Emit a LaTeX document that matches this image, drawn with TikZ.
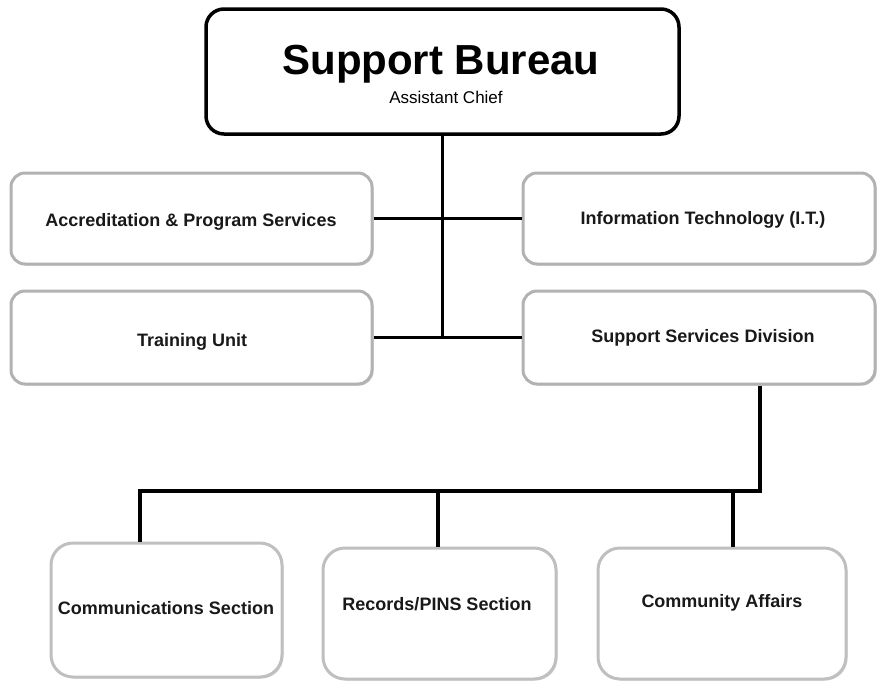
\documentclass[tikz,border=0pt]{standalone}
\usepackage{fontspec}
\setmainfont{Liberation Sans}
\usetikzlibrary{shadows}
\begin{document}
\begin{tikzpicture}[x=1pt,y=-1pt,
  topbox/.style={draw=black, line width=3.5pt, rounded corners=18pt, fill=white,
    drop shadow={shadow xshift=1.5pt, shadow yshift=-1.5pt, opacity=.35}},
  midbox/.style={draw=gray!60, line width=3pt, rounded corners=14pt, fill=white,
    drop shadow={shadow xshift=1.5pt, shadow yshift=-1.5pt, opacity=.35}},
  lowbox/.style={draw=gray!50, line width=3pt, rounded corners=22pt, fill=white,
    drop shadow={shadow xshift=1.5pt, shadow yshift=-1.5pt, opacity=.3}},
  lbl/.style={font=\fontsize{18}{21}\selectfont\bfseries, text=black!90},
  conn/.style={draw=black, line width=3pt},
  bus/.style={draw=black, line width=4.5pt}]
\useasboundingbox (0,0) rectangle (878,681);
% boxes
\node[topbox, minimum width=473pt, minimum height=125pt] (top) at (442.5,71.5) {};
\node[midbox, minimum width=361pt, minimum height=91pt] (acc) at (191.5,218.5) {};
\node[midbox, minimum width=361pt, minimum height=93pt] (tu) at (191.5,337.5) {};
\node[midbox, minimum width=352pt, minimum height=91pt] (it) at (699,218.5) {};
\node[midbox, minimum width=352pt, minimum height=93pt] (ssd) at (699,337.5) {};
\node[lowbox, minimum width=231pt, minimum height=134pt] (comm) at (166.5,610) {};
\node[lowbox, minimum width=233pt, minimum height=131pt] (rec) at (439.5,613.5) {};
\node[lowbox, minimum width=248pt, minimum height=131pt] (ca) at (722,613.5) {};
% texts
\node[font=\fontsize{42}{46}\selectfont\bfseries] (title) at (441,64) {Support Bureau};
\node[font=\fontsize{17}{20}\selectfont] (sub) at (446,97) {Assistant Chief};
\node[lbl] (acct) at (191,222) {Accreditation \& Program Services};
\node[lbl] (tut) at (192,342) {Training Unit};
\node[lbl] (itt) at (703,220) {Information Technology (I.T.)};
\node[lbl] (ssdt) at (703,338) {Support Services Division};
\node[lbl] (commt) at (166,608) {Communications Section};
\node[lbl] (rect) at (437,604) {Records/PINS Section};
\node[lbl] (cat) at (722,603) {Community Affairs};
% connectors
\coordinate (busR) at (760,491);
\coordinate (busL) at (140,491);
\coordinate (busM) at (438,491);
\coordinate (busC) at (733,491);
\draw[conn] (top.south) -- (top.south |- tu.east);
\draw[conn] (acc.east) -- (it.west);
\draw[conn] (tu.east) -- (ssd.west);
\draw[bus, line join=miter] (ssd.south -| busR) -- (busR) -- (busL) -- (comm.north -| busL);
\draw[bus] (busM) -- (rec.north -| busM);
\draw[bus] (busC) -- (ca.north -| busC);
\end{tikzpicture}
\end{document}
